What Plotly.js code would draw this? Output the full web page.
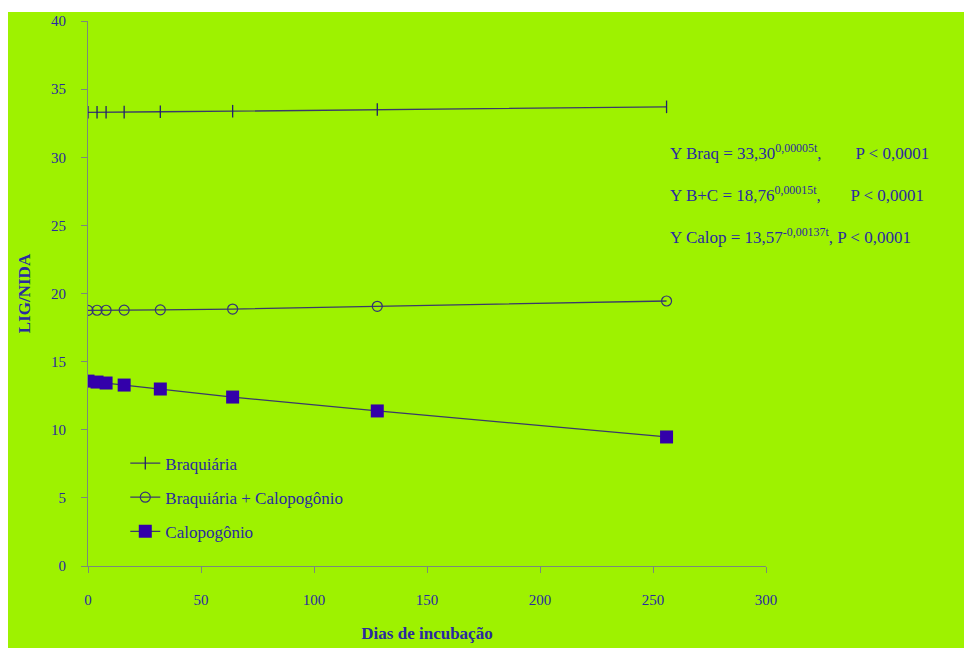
<!DOCTYPE html>
<html><head><meta charset="utf-8">
<script src="https://cdn.plot.ly/plotly-3.0.1.min.js"></script>
<style>html,body{margin:0;padding:0;background:#fff}#c{position:absolute;left:8px;top:12px}</style>
</head><body><div id="c"></div>
<script>
const dias = [0, 4, 8, 16, 32, 64, 128, 256];
const braq = [33.30, 33.30, 33.30, 33.31, 33.34, 33.38, 33.50, 33.70];
const bc   = [18.76, 18.77, 18.77, 18.78, 18.80, 18.86, 19.06, 19.45];
const calop= [13.57, 13.50, 13.43, 13.28, 12.99, 12.40, 11.38, 9.47];
const xTicks = [0, 50, 100, 150, 200, 250, 300];
const yTicks = [0, 5, 10, 15, 20, 25, 30, 35, 40];
const names = ['Braquiária', 'Braquiária + Calopogônio', 'Calopogônio'];
const eqs = [
 'Y Braq = 33,30<sup>0,00005t</sup>,        P < 0,0001',
 'Y B+C = 18,76<sup>0,00015t</sup>,       P < 0,0001',
 'Y Calop = 13,57<sup>-0,00137t</sup>, P < 0,0001'
];
const serif = 'Liberation Serif, Times New Roman, serif';
const txtCol = '#2a2aa0';
const lineCol = '#3a3a6a';
const traces = [
 {x: dias, y: braq, name: names[0], legendgroup:'a', mode:'lines+markers',
  line:{color:lineCol, width:1.3}, marker:{symbol:'line-ns-open', size:9, color:'#22226a', line:{width:1.3, color:'#22226a'}}},
 {x: dias, y: bc, name: names[1], legendgroup:'b', mode:'lines+markers',
  line:{color:lineCol, width:1.3}, marker:{symbol:'circle-open', size:10, color:'#333377', line:{width:1.2, color:'#333377'}}},
 {x: dias, y: calop, name: names[2], legendgroup:'c', mode:'lines+markers',
  line:{color:lineCol, width:1.3}, marker:{symbol:'square', size:13, color:'#3300aa', line:{width:0}}}
];
const layout = {
 width: 956, height: 636,
 paper_bgcolor:'#9ef200', plot_bgcolor:'#9ef200',
 margin:{l:80, r:198, t:9, b:82},
 showlegend:true,
 legend:{x:0.055, y:0.221, xanchor:'left', yanchor:'top', bgcolor:'rgba(0,0,0,0)',
   font:{family:serif, size:17, color:txtCol}, tracegroupgap:9, itemwidth:30},
 xaxis:{range:[0,300], tickvals:xTicks, ticks:'outside', ticklen:6, tickcolor:'#7a8a7a',
   showgrid:false, zeroline:false, showline:true, linecolor:'#7a8a7a', linewidth:1,
   tickfont:{family:serif, size:15, color:txtCol}, ticklabelstandoff:14,
   title:{text:'<b>Dias de incubação</b>', font:{family:serif, size:17, color:txtCol}, standoff:20}},
 yaxis:{range:[0,40], tickvals:yTicks, ticks:'outside', ticklen:6, tickcolor:'#7a8a7a',
   showgrid:false, zeroline:false, showline:true, linecolor:'#7a8a7a', linewidth:1,
   tickfont:{family:serif, size:15, color:txtCol}, ticklabelstandoff:12,
   title:{text:'<b>LIG/NIDA</b>', font:{family:serif, size:17, color:txtCol}, standoff:16}},
 annotations: eqs.map((t,i)=>({xref:'paper', yref:'paper', x:(668-88)/678, y:(566-152-i*42)/545,
   xanchor:'left', yanchor:'middle', text:t, showarrow:false, font:{family:serif, size:17, color:txtCol}}))
};
Plotly.newPlot('c', traces, layout, {displayModeBar:false});
</script></body></html>
